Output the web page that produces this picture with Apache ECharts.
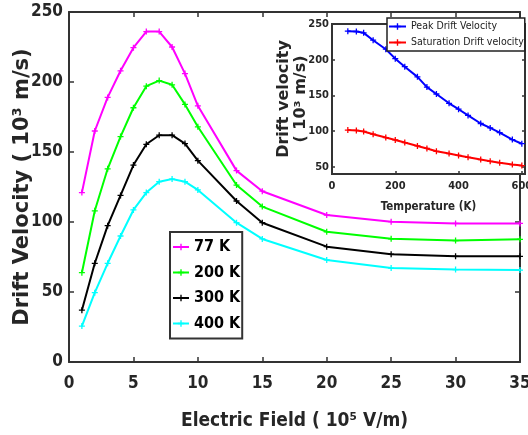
<!DOCTYPE html>
<html>
<head>
<meta charset="UTF-8">
<title>Drift Velocity</title>
<style>
html,body{margin:0;padding:0;background:#fff;}
#chart{width:528px;height:435px;}
</style>
</head>
<body>
<div id="chart"></div>
<script src="https://cdn.jsdelivr.net/npm/echarts@6/dist/echarts.min.js"></script>
<script>
// main plot: electric field (10^5 V/m) vs drift velocity (10^3 m/s)
var field = [1, 2, 3, 4, 5, 6, 7, 8, 9, 10, 13, 15, 20, 25, 30, 35];
var v77  = [121, 165, 189, 208, 224.5, 236, 236, 225, 206, 183, 136.7, 122, 105, 100.2, 99, 99];
var v200 = [63.8, 108, 138, 161, 181.6, 197, 201, 198, 184, 168, 126.4, 111, 93, 88, 86.7, 87.6];
var v300 = [37, 70.5, 97.4, 119, 140.7, 155.5, 162, 162, 156, 143.8, 115, 99.5, 82.4, 77, 75.5, 75.5];
var v400 = [25.7, 49.5, 70.5, 90, 108.6, 121, 128.8, 130.7, 128.8, 122.9, 99.5, 87.9, 72.9, 67.1, 66, 65.7];
var mainNames = ['77 K', '200 K', '300 K', '400 K'];

// inset: temperature (K) vs peak / saturation drift velocity
var temps = [50, 77, 100, 130, 170, 200, 230, 270, 300, 330, 370, 400, 430, 470, 500, 530, 570, 600];
var peakV = [240, 239.5, 237.6, 227.3, 214.7, 201.5, 190.2, 176, 161.7, 152, 139, 130.7, 122, 110.7, 104.5, 98, 88.2, 82.4];
var satV  = [101.5, 101, 99.6, 95.7, 91, 87.7, 84, 79.3, 75.8, 71.8, 68.6, 66, 63.4, 60.2, 57.8, 55.8, 53.2, 51.8];
var insetNames = ['Peak Drift Velocity', 'Saturation Drift velocity'];
var insetYTicks = [50, 100, 150, 200, 250];

var FONT = "'DejaVu Sans Condensed', 'Liberation Sans Narrow', 'DejaVu Sans', sans-serif";
var AXIS_COLOR = '#333';
var PLUS = 'path://M2.75,0h1.5v2.75h2.75v1.5h-2.75v2.75h-1.5v-2.75h-2.75v-1.5h2.75z';

function pairs(xs, ys) {
	return xs.map(function (x, i) { return [x, ys[i]]; });
}

// frame axis (top / right copies only show line + ticks)
function frameAxis(extra) {
	var a = {
		type: 'value',
		axisLine: {show: true, onZero: false, lineStyle: {color: AXIS_COLOR, width: 2}},
		axisTick: {show: true, inside: true, length: 5, lineStyle: {color: AXIS_COLOR, width: 1.5}},
		axisLabel: {show: false},
		splitLine: {show: false}
	};
	for (var k in extra) a[k] = extra[k];
	return a;
}

function lineSeries(name, data, color, xi, yi, z) {
	return {
		name: name,
		type: 'line',
		xAxisIndex: xi,
		yAxisIndex: yi,
		data: data,
		symbol: PLUS,
		symbolSize: 6,
		showSymbol: true,
		z: z,
		itemStyle: {color: color},
		lineStyle: {color: color, width: 2}
	};
}

var chart = echarts.init(document.getElementById('chart'), null, {renderer: 'canvas'});

var mainLabel = {show: true, fontFamily: FONT, fontWeight: 'bold', fontSize: 17, color: '#262626'};
var insetLabel = {show: true, fontFamily: FONT, fontWeight: 'bold', fontSize: 11, color: '#262626'};

var option = {
	backgroundColor: '#fff',
	animation: false,
	grid: [
		{left: 69, right: 8, top: 12, bottom: 73, outerBoundsMode: 'none', containLabel: false, z: 0},
		{left: 332, right: 3, top: 24, bottom: 261, outerBoundsMode: 'none', containLabel: false,
		 show: true, backgroundColor: '#fff', borderColor: AXIS_COLOR, borderWidth: 2, z: 5}
	],
	xAxis: [
		frameAxis({gridIndex: 0, position: 'bottom', min: 0, max: 35, interval: 5,
			axisLabel: Object.assign({margin: 13}, mainLabel),
			name: 'Electric Field ( 10\u2075 V/m)', nameLocation: 'middle', nameGap: 50,
			nameTextStyle: {fontFamily: FONT, fontWeight: 'bold', fontSize: 19, color: '#262626'}}),
		frameAxis({gridIndex: 0, position: 'top', min: 0, max: 35, interval: 5}),
		frameAxis({gridIndex: 1, position: 'bottom', min: 0, max: 610, interval: 200, z: 6,
			axisTick: {show: true, inside: true, length: 3, lineStyle: {color: AXIS_COLOR, width: 1.5}},
			axisLabel: Object.assign({margin: 7}, insetLabel),
			name: 'Temperature (K)', nameLocation: 'middle', nameGap: 27,
			nameTextStyle: {fontFamily: FONT, fontWeight: 'bold', fontSize: 11.5, color: '#262626'}}),
		frameAxis({gridIndex: 1, position: 'top', min: 0, max: 610, interval: 200, z: 6,
			axisTick: {show: true, inside: true, length: 3, lineStyle: {color: AXIS_COLOR, width: 1.5}}})
	],
	yAxis: [
		frameAxis({gridIndex: 0, position: 'left', min: 0, max: 250, interval: 50,
			axisLabel: Object.assign({margin: 6}, mainLabel),
			name: 'Drift Velocity ( 10\u00b3 m/s)', nameLocation: 'middle', nameGap: 36, nameMoveOverlap: false,
			nameTextStyle: {fontFamily: "'DejaVu Sans', sans-serif", fontWeight: 'bold', fontSize: 21, color: '#262626'}}),
		frameAxis({gridIndex: 0, position: 'right', min: 0, max: 250, interval: 50}),
		frameAxis({gridIndex: 1, position: 'left', min: 40, max: 250, z: 6,
			axisTick: {show: true, inside: true, length: 3, customValues: insetYTicks, lineStyle: {color: AXIS_COLOR, width: 1.5}},
			axisLabel: Object.assign({margin: 3, customValues: insetYTicks}, insetLabel),
			name: 'Drift velocity\n( 10\u00b3 m/s)', nameLocation: 'middle', nameGap: 23, nameMoveOverlap: false,
			nameTextStyle: {fontFamily: "'DejaVu Sans', sans-serif", fontWeight: 'bold', fontSize: 16, lineHeight: 17, color: '#262626'}}),
		frameAxis({gridIndex: 1, position: 'right', min: 40, max: 250, z: 6,
			axisTick: {show: true, inside: true, length: 3, customValues: insetYTicks, lineStyle: {color: AXIS_COLOR, width: 1.5}}})
	],
	legend: [
		{
			data: mainNames, orient: 'vertical', left: 170, top: 232,
			padding: [7, 2, 7, 2], itemGap: 9.5, itemWidth: 16, itemHeight: 8,
			backgroundColor: '#fff', borderColor: AXIS_COLOR, borderWidth: 2, borderRadius: 0,
			selectedMode: false, z: 10,
			textStyle: {fontFamily: FONT, fontWeight: 'bold', fontSize: 16, color: '#000'}
		},
		{
			data: insetNames, orient: 'vertical', left: 387, top: 18,
			padding: [3, 1, 3, 1], itemGap: 5, itemWidth: 17, itemHeight: 8,
			backgroundColor: '#fff', borderColor: '#222', borderWidth: 1.5, borderRadius: 0,
			selectedMode: false, z: 10,
			textStyle: {fontFamily: FONT, fontSize: 10.5, color: '#222'}
		}
	],
	series: [
		lineSeries(mainNames[0], pairs(field, v77), '#ff00ff', 0, 0, 2),
		lineSeries(mainNames[1], pairs(field, v200), '#00ff00', 0, 0, 2),
		lineSeries(mainNames[2], pairs(field, v300), '#000000', 0, 0, 2),
		lineSeries(mainNames[3], pairs(field, v400), '#00ffff', 0, 0, 2),
		lineSeries(insetNames[0], pairs(temps, peakV), '#0000ff', 2, 2, 7),
		lineSeries(insetNames[1], pairs(temps, satV), '#ff0000', 2, 2, 7)
	]
};
chart.setOption(option);
</script>
</body>
</html>
